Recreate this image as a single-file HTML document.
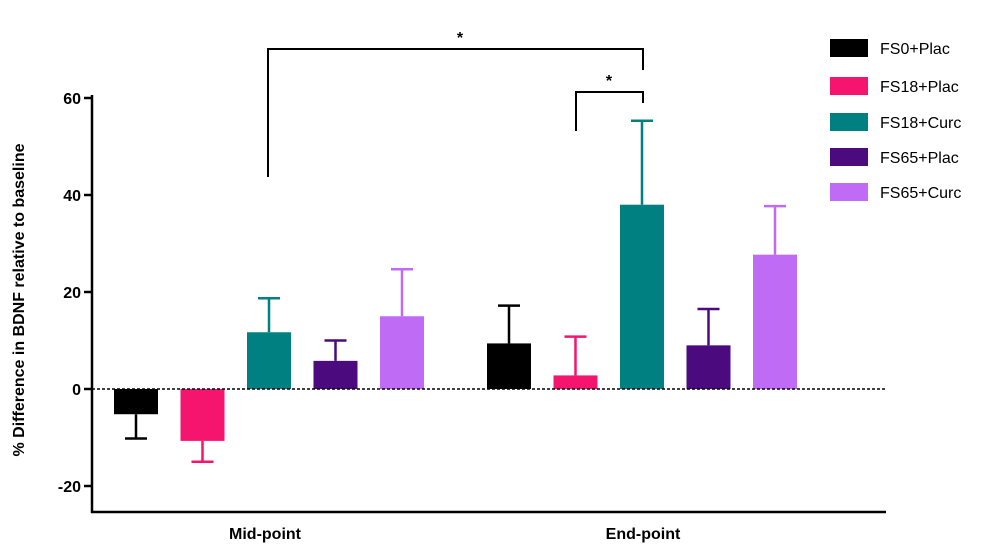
<!DOCTYPE html>
<html><head><meta charset="utf-8"><style>
body{margin:0;background:#fff;width:989px;height:555px;overflow:hidden}
svg text{font-family:"Liberation Sans",sans-serif;font-weight:bold}
</style></head><body>
<svg id="c" width="989" height="555"></svg>
<script>
const groups=["Mid-point","End-point"];
const seriesNames=["FS0+Plac","FS18+Plac","FS18+Curc","FS65+Plac","FS65+Curc"];
const colors=["#000000","#f5146e","#008080","#4b0a7e","#c06bf5"];
const midVals=[-5.2,-10.7,11.7,5.8,15];
const midErr=[5,4.3,7,4.2,9.7];
const endVals=[9.4,2.8,38,9,27.7];
const endErr=[7.8,8,17.3,7.5,10];
const yTicks=[-20,0,20,40,60];
const svg=document.getElementById('c');
const NS="http://www.w3.org/2000/svg";
function y(v){return 389-v*4.85;}
const groupStart=[114,487],step=66.5,bw=44;
function el(t,a,p){const e=document.createElementNS(NS,t);for(const k in a)e.setAttribute(k,a[k]);(p||svg).appendChild(e);return e;}
// axes
let ax=el('line',{x1:92,y1:95,x2:92,y2:513,stroke:'#000','stroke-width':2.5});


let bx=el('line',{x1:91,y1:512,x2:886,y2:512,stroke:'#000','stroke-width':2.5});


yTicks.forEach(t=>{
 const tk=el('line',{x1:84,y1:y(t),x2:92,y2:y(t),stroke:'#000','stroke-width':2.5});
 
 
 const tx=el('text',{x:81,y:y(t)+6,'text-anchor':'end','font-size':16});
 tx.textContent=t;
 
 
});
const yl=el('text',{x:0,y:0,'font-size':16,'text-anchor':'middle',transform:'translate(24,300) rotate(-90)'});
yl.textContent='%  Difference in BDNF relative to baseline';


[[midVals,midErr],[endVals,endErr]].forEach((g,gi)=>{
 g[0].forEach((v,i)=>{
  const x0=groupStart[gi]+i*step, c=colors[i];
  const e=v+(v>=0?g[1][i]:-g[1][i]);
  const cx=x0+bw/2;
  const el1=el('line',{x1:cx,y1:y(v),x2:cx,y2:y(e),stroke:c,'stroke-width':2.5});
  
  
  const cap=el('line',{x1:cx-11,y1:y(e),x2:cx+11,y2:y(e),stroke:c,'stroke-width':2.5});
  
  
  const r=el('rect',{x:x0,y:Math.min(y(v),y(0)),width:bw,height:Math.abs(y(v)-y(0)),fill:c});
  
  
 });
 const lab=el('text',{x:gi?643:265,y:539,'text-anchor':'middle','font-size':16});
 lab.textContent=groups[gi];
 
 
});
const zl=el('line',{x1:92,y1:389,x2:886,y2:389,stroke:'#000','stroke-width':1.5,'stroke-dasharray':'3,2'});


const b1=el('polyline',{points:'268,177 268,49 643,49 643,70',fill:'none',stroke:'#000','stroke-width':2});


const b2=el('polyline',{points:'576,131 576,92 643,92 643,103',fill:'none',stroke:'#000','stroke-width':2});


[[460,43],[609,86]].forEach(p=>{const s=el('text',{x:p[0],y:p[1],'text-anchor':'middle','font-size':16});s.textContent='*';
 
 });
const ly=[48,86,122,157,192];
seriesNames.forEach((n,i)=>{
 const r=el('rect',{x:830,y:ly[i]-9,width:38,height:18,fill:colors[i]});
 
 
 const t=el('text',{x:880,y:ly[i]+6,'font-size':16,'font-weight':'normal',style:'font-weight:normal'});
 t.textContent=n;
 
 
});
</script></body></html>
